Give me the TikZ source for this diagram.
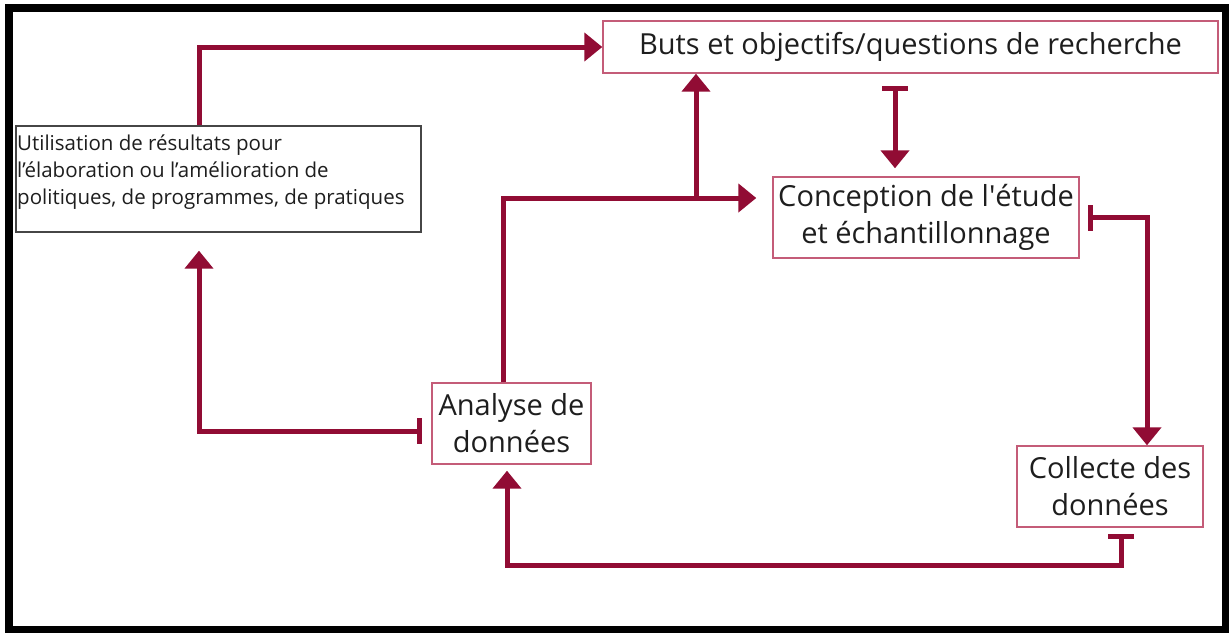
\documentclass[tikz,border=0pt]{standalone}
\usepackage{fontspec}
\setmainfont{Open Sans}
\usetikzlibrary{arrows.meta,calc}
\definecolor{conncol}{RGB}{145,12,52}
\definecolor{boxcol}{RGB}{196,92,120}
\definecolor{txtcol}{RGB}{30,30,30}
\tikzset{
  conn/.style={draw=conncol, line width=5pt},
  headtip/.tip={Triangle[length=18pt,width=28pt]},
  bartip/.tip={Bar[width=26pt]},
  stagebox/.style={draw=boxcol, line width=1.4pt, fill=white, inner sep=0pt,
    align=center, text=txtcol, font=\fontsize{29}{37}\selectfont},
}
\begin{document}
\begin{tikzpicture}[x=1pt,y=-1pt]
\useasboundingbox (0,0) rectangle (1229,632);
\fill[white] (0,0) rectangle (1229,632);
\draw[line width=8pt] (9,7.5) rectangle (1226,629.5);

\node[stagebox, minimum width=615pt, minimum height=52pt] (buts) at (910.5,47)
  {Buts et objectifs/questions de recherche};
\node[stagebox, minimum width=306pt, minimum height=81pt] (conc) at (926,217.5)
  {Conception de l\textquotesingle étude\\et échantillonnage};
\node[stagebox, minimum width=159pt, minimum height=81pt] (ana) at (511.5,423.5)
  {Analyse de\\données};
\node[stagebox, minimum width=186pt, minimum height=81pt] (coll) at (1110,486.5)
  {Collecte des\\données};
\node[draw={rgb,255:red,70;green,70;blue,70}, line width=1.4pt, fill=white,
  minimum width=405pt, minimum height=106pt, inner sep=0pt] (util) at (218.5,179) {};
\node[anchor=north west, inner sep=0pt, align=left, text=txtcol,
  font=\fontsize{20.5}{27}\selectfont] (utiltxt) at (17,135)
  {Utilisation de résultats pour\\l’élaboration ou l’amélioration de\\politiques, de programmes, de pratiques};

% Utilisation -> Buts
\draw[conn,-headtip] ([xshift=-19.5pt]util.north) |- (buts.west);
% Analyse -> Conception, with branch to Buts
\draw[conn,-headtip, shorten >=16pt] ([xshift=-8.5pt]ana.north) |- ([yshift=19.5pt]conc.west);
\coordinate (junc) at (696,198);
\draw[conn,-headtip] (junc) -- (junc |- buts.south);
% Buts -> Conception
\draw[conn,bartip-headtip, shorten <=12pt, shorten >=8pt]
  ([xshift=-15.5pt]buts.south) -- ([xshift=-15.5pt]buts.south |- conc.north);
% Conception -> Collecte
\draw[conn,bartip-headtip, shorten <=8pt] (conc.east) -| ([xshift=37pt]coll.north);
% Collecte -> Analyse
\draw[conn,bartip-headtip, shorten <=6pt, shorten >=6pt]
  ([xshift=11pt]coll.south) -- ++(0,38) -| ([xshift=-4.5pt]ana.south);
% Analyse -> Utilisation
\draw[conn,bartip-headtip, shorten <=9pt, shorten >=18pt]
  ([yshift=-7.5pt]ana.west) -| ([xshift=-19.5pt]util.south);
\end{tikzpicture}
\end{document}
